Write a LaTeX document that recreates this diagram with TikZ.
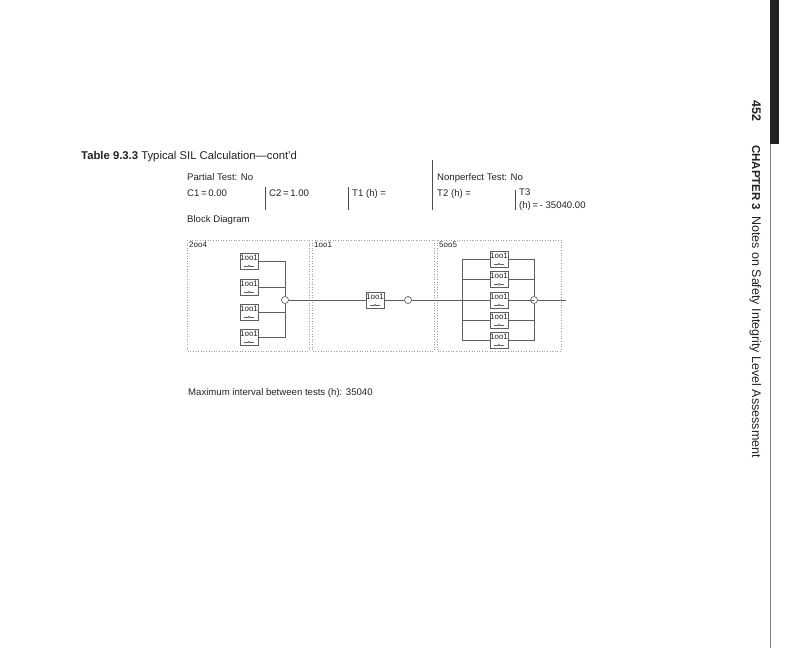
\documentclass[tikz,border=0pt]{standalone}
\usepackage{fontspec}
\setmainfont{Liberation Sans}
\definecolor{ink}{HTML}{222222}
\definecolor{wire}{HTML}{5E5E5E}
\definecolor{frameline}{HTML}{A0A0A0}
\tikzset{
  txt/.style={anchor=base west, inner sep=0pt, text=ink, font=\fontsize{9.6}{11}\selectfont},
  sidetxt/.style={anchor=base west, inner sep=0pt, rotate=-90, text=ink, font=\fontsize{12.5}{14}\selectfont},
  sect/.style={draw=frameline, dotted, line width=0.6pt},
  secttag/.style={anchor=north west, inner sep=2pt, text=ink, font=\fontsize{8}{9}\selectfont},
  unit/.style={draw=wire, line width=0.8pt, minimum width=18pt, minimum height=16pt, inner sep=0pt,
    label={[anchor=north, inner sep=0pt, yshift=-2pt, text=ink, font=\fontsize{8}{9}\selectfont]north:1oo1},
    path picture={
      \draw[wire, line width=0.4pt] ([xshift=-5pt,yshift=3pt]path picture bounding box.south)
        -- ([xshift=5pt,yshift=3pt]path picture bounding box.south);
      \draw[wire, fill=white, line width=0.4pt] ([yshift=3pt]path picture bounding box.south) circle (1.2pt);
    }},
  vote/.style={circle, draw=wire, fill=white, line width=0.7pt, minimum size=7pt, inner sep=0pt},
  link/.style={draw=wire, line width=0.8pt},
  rule/.style={draw=ink!80, line width=0.5pt},
}
\begin{document}
\begin{tikzpicture}[x=1pt, y=-1pt]
  \useasboundingbox (0,0) rectangle (800,648);

  % Table heading and fields
  \node[txt, font=\fontsize{11.3}{13}\selectfont] (title) at (81,159) {\textbf{Table 9.3.3} Typical SIL Calculation---cont'd};
  \node[txt] (partial) at (187,180) {Partial Test: No};
  \node[txt] (nonperf) at (437,180) {Nonperfect Test: No};
  \node[txt] (cone) at (187,196) {C1\,=\,0.00};
  \node[txt] (ctwo) at (269,196) {C2\,=\,1.00};
  \node[txt] (tone) at (352,196) {T1 (h) =};
  \node[txt] (ttwo) at (437,196) {T2 (h) =};
  \node[txt] (tthree) at (519,195) {T3};
  \node[txt] (tthreeval) at (519,208) {(h)\,=\,- 35040.00};
  \draw[rule] (265,187) -- (265,210); % field separators
  \draw[rule] (348,187) -- (348,210);
  \draw[rule] (432,160) -- (432,210);
  \draw[rule] (515,190) -- (515,210);
  \node[txt] (blockdiag) at (187,222) {Block Diagram};

  % Sections
  \draw[sect] (187,240) rectangle (309,351);
  \draw[sect] (312,240) rectangle (434,351);
  \draw[sect] (437,240) rectangle (561,351);
  \node[secttag] (tagA) at (187,240) {2oo4};
  \node[secttag] (tagB) at (312,240) {1oo1};
  \node[secttag] (tagC) at (437,240) {5oo5};

  % 2oo4 group
  \node[unit] (a1) at (249,261) {};
  \node[unit] (a2) at (249,287) {};
  \node[unit] (a3) at (249,312) {};
  \node[unit] (a4) at (249,337) {};
  \node[vote] (oA) at (285,300) {};
  \foreach \i in {1,...,4}
    \draw[link] (a\i.east) -| (oA);

  % 1oo1 group
  \node[unit] (m1) at (375,300) {};
  \node[vote] (oB) at (408,300) {};
  \draw[link] (oA) -- (m1.west);
  \draw[link] (m1.east) -- (oB);

  % 5oo5 group
  \coordinate (jC) at (462,300);
  \node[unit] (c1) at (499,259) {};
  \node[unit] (c2) at (499,279.5) {};
  \node[unit] (c3) at (499,300) {};
  \node[unit] (c4) at (499,320) {};
  \node[unit] (c5) at (499,340) {};
  \node[vote] (oC) at (534,300) {};
  \coordinate (outC) at (566,300);
  \draw[link] (oB) -- (jC);
  \foreach \i in {1,...,5} {
    \draw[link] (c\i.west) -| (jC);
    \draw[link] (c\i.east) -| (oC);
  }
  \draw[link] (oC) -- (outC);

  \node[txt] (maxint) at (188,395) {Maximum interval between tests (h): 35040};

  % Running head on the right
  \fill[ink] (770,0) rectangle (779,144);
  \draw[gray, line width=0.7pt] (770,144) -- (770,648);
  \node[sidetxt] (page) at (752,100) {\textbf{452}};
  \node[sidetxt, font=\fontsize{11.5}{14}\selectfont] (chap) at (752,145) {\textbf{CHAPTER 3}};
  \node[sidetxt] (runhead) at (752,216) {Notes on Safety Integrity Level Assessment};
\end{tikzpicture}
\end{document}
